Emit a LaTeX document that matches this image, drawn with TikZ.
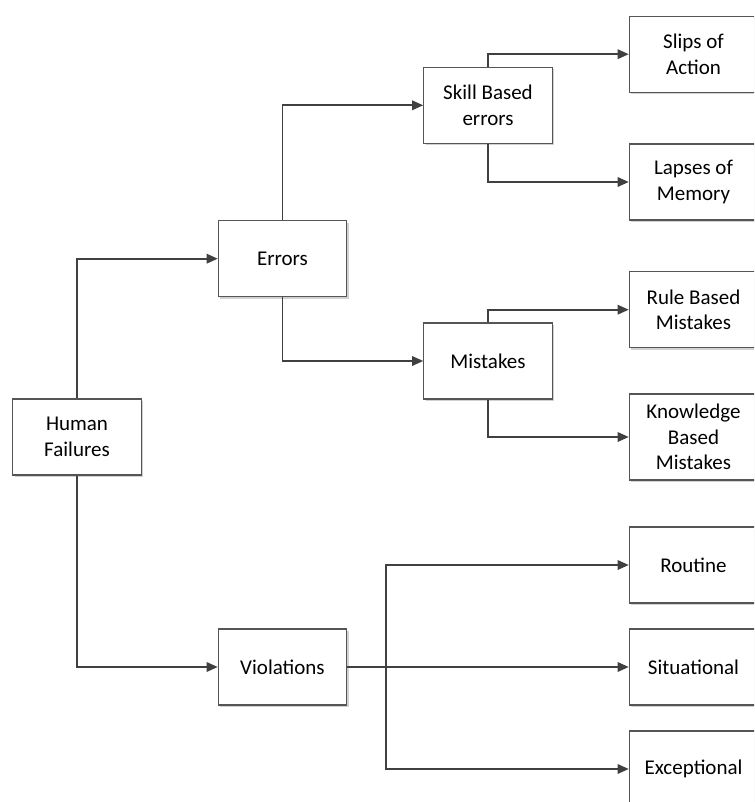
\documentclass[tikz,border=0pt]{standalone}
\usepackage{fontspec}
\setmainfont{Carlito}
\usetikzlibrary{arrows.meta,shadows}
\definecolor{linec}{HTML}{404040}
\definecolor{boxc}{HTML}{555555}
\tikzset{
  box/.style={draw=boxc, line width=1.1pt, fill=white, rectangle, align=center,
    minimum width=128.5pt, minimum height=76pt, inner sep=0pt,
    font=\fontsize{21}{25.6}\selectfont,
    drop shadow={shadow xshift=2pt, shadow yshift=-2pt, fill=black!18, opacity=1}},
  arr/.style={draw=linec, line width=1.6pt, -{Triangle[length=11pt,width=9.5pt]}},
  ln/.style={draw=linec, line width=1.6pt}
}
\begin{document}
\begin{tikzpicture}[x=1pt,y=-1pt]
\useasboundingbox (0,0) rectangle (754,802);
\clip (0,0) rectangle (754,802);
\node[box] (hf) at (77,437) {Human\\Failures};
\node[box] (err) at (282.5,258.7) {Errors};
\node[box] (skill) at (488,105.3) {Skill Based\\errors};
\node[box] (mist) at (488,361) {Mistakes};
\node[box] (viol) at (282.5,667) {Violations};
\node[box] (slips) at (693.5,54.2) {Slips of\\Action};
\node[box] (lapses) at (693.5,182) {Lapses of\\Memory};
\node[box] (rule) at (693.5,309.7) {Rule Based\\Mistakes};
\node[box, minimum height=86pt] (know) at (693.5,437) {Knowledge\\Based\\Mistakes};
\node[box] (routine) at (693.5,565) {Routine};
\node[box] (sit) at (693.5,667) {Situational};
\node[box] (exc) at (693.5,769) {Exceptional};
\draw[arr] (hf.north) |- (err.west);
\draw[arr] (hf.south) |- (viol.west);
\draw[arr] (err.north) |- (skill.west);
\draw[arr] (err.south) |- (mist.west);
\draw[arr] (skill.north) |- (slips.west);
\draw[arr] (skill.south) |- (lapses.west);
\draw[arr] (mist.north) |- (rule.west);
\draw[arr] (mist.south) |- (know.west);
\draw[ln] (viol.east) -- ++(38.5,0) coordinate (br);
\draw[arr] (br) -- (sit.west);
\draw[arr] (br) |- (routine.west);
\draw[arr] (br) |- (exc.west);
\end{tikzpicture}
\end{document}
